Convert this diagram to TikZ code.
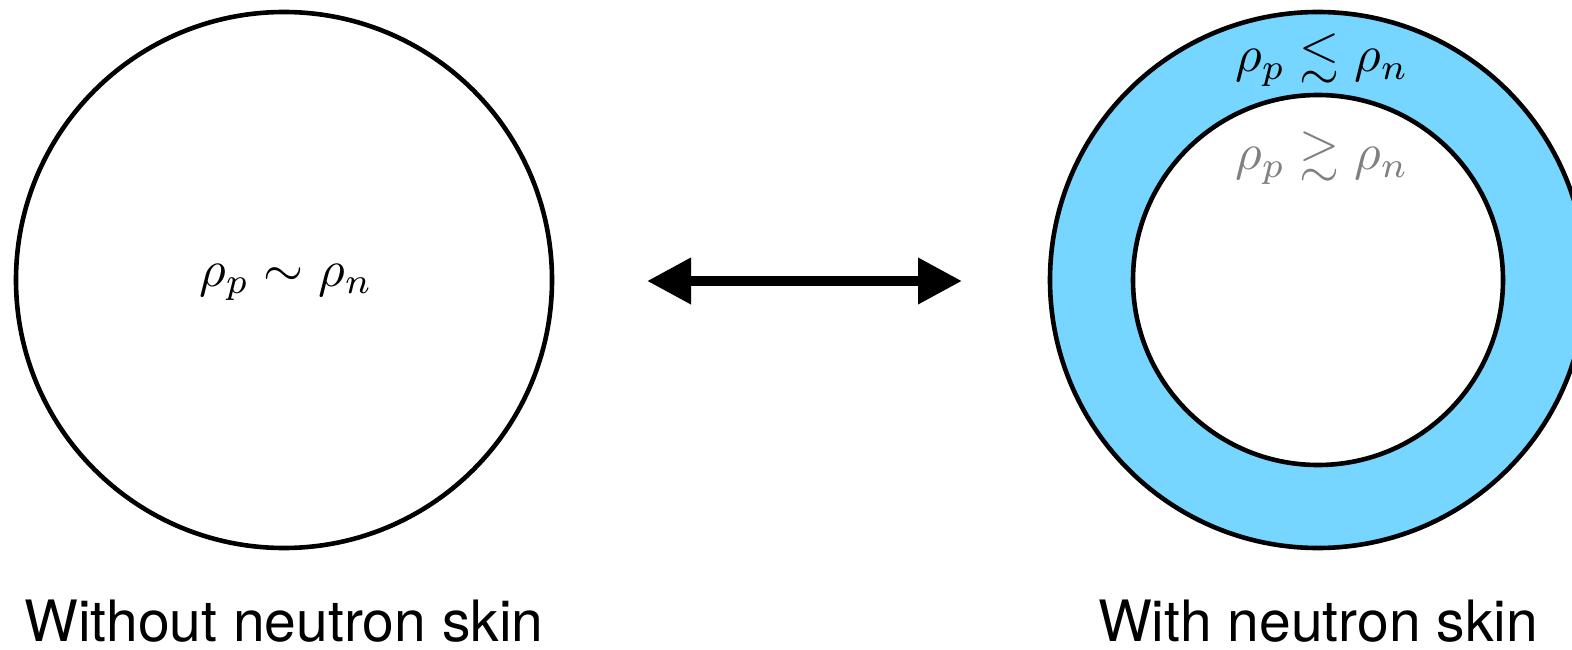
\documentclass[tikz,border=0pt]{standalone}
\usepackage{amssymb}
\usepackage{graphicx}
\usepackage{fontspec}
\setsansfont{TeX Gyre Heros}
\usetikzlibrary{arrows.meta}
\definecolor{skinblue}{RGB}{118,214,255}
\definecolor{graytext}{RGB}{128,128,128}
\newcommand{\bigmath}[1]{\scalebox{5.15}{$#1$}}
\tikzset{
  rim/.style={line width=4.6pt, draw=black},
  mathlabel/.style={anchor=base, inner sep=0pt},
  caption/.style={anchor=base, inner sep=0pt, text depth=0pt, font=\sffamily\fontsize{57}{66}\selectfont},
  bigarrow/.style={line width=10pt, {Triangle[length=44pt,width=44pt]}-{Triangle[length=44pt,width=44pt]}}
}
\begin{document}
\begin{tikzpicture}[x=1pt,y=-1pt]
\useasboundingbox (0,0) rectangle (1572,650);
\clip (0,0) rectangle (1572,650);
% left circle
\coordinate (lc) at (284,280);
\draw[rim, fill=white] (lc) circle[radius=268];
\node[mathlabel] (leq) at (286,286) {\bigmath{\rho_p \sim \rho_n}};
% right ring
\coordinate (rc) at (1318,280);
\draw[rim, fill=skinblue] (rc) circle[radius=268];
\draw[rim, fill=white] (rc) circle[radius=185];
\node[mathlabel] (rtop) at (1322,72) {\bigmath{\rho_p \lesssim \rho_n}};
\node[mathlabel, text=graytext] (rin) at (1322,170) {\bigmath{\rho_p \gtrsim \rho_n}};
% arrow
\coordinate (al) at (647,281);
\coordinate (ar) at (962,281);
\draw[bigarrow] (al) -- (ar);
% captions
\node[caption] (lcap) at (284,641) {Without neutron skin};
\node[caption] (rcap) at (1318,641) {With neutron skin};
\end{tikzpicture}
\end{document}
